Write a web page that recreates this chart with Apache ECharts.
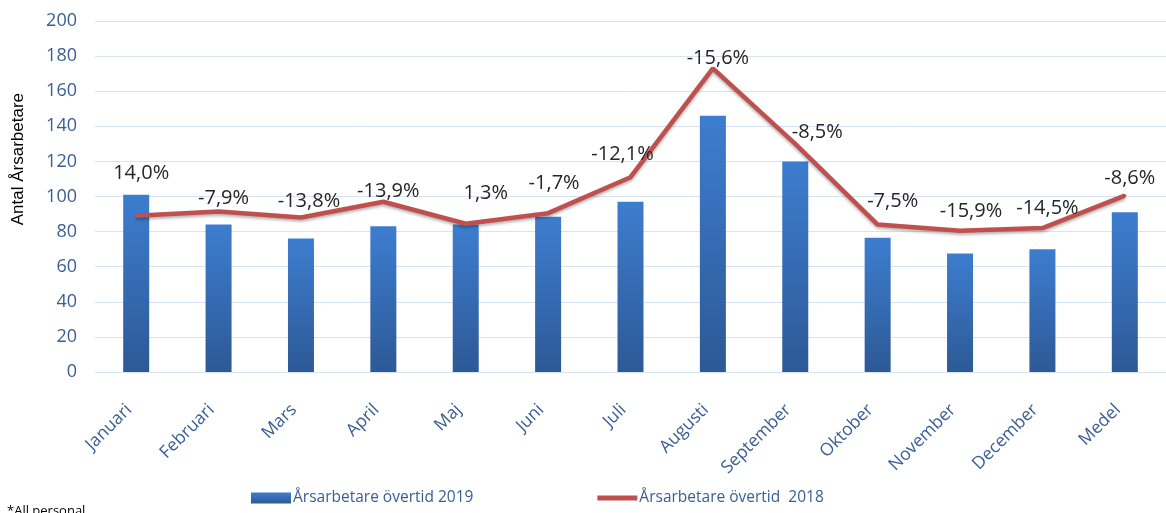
<!DOCTYPE html>
<html>
<head>
<meta charset="utf-8">
<script src="https://cdn.jsdelivr.net/npm/echarts@6/dist/echarts.min.js"></script>
<style>
  html, body { margin: 0; padding: 0; background: #fff; }
  #main { width: 1166px; height: 513px; }
</style>
</head>
<body>
<div id="main"></div>
<script>
const months = ['Januari', 'Februari', 'Mars', 'April', 'Maj', 'Juni', 'Juli', 'Augusti', 'September', 'Oktober', 'November', 'December', 'Medel'];
const values2019 = [101, 84, 76, 83, 84, 88.5, 97, 146, 120, 76.5, 67.5, 70, 91];
const values2018 = [89, 91.5, 88, 97, 84.5, 90.5, 111, 173, 130, 84, 80.5, 82, 100.5];
const changeLabels = ['14,0%', '-7,9%', '-13,8%', '-13,9%', '1,3%', '-1,7%', '-12,1%', '-15,6%', '-8,5%', '-7,5%', '-15,9%', '-14,5%', '-8,6%'];
const yTicks = [0, 20, 40, 60, 80, 100, 120, 140, 160, 180, 200];

// nudges for the percentage labels, the way they sit in the original
const labelNudge = [[5, -25], [5, 4], [8, 1], [5, 7], [20, -13], [6, -12], [-8, -5], [5, 7], [22, 6], [15, -6], [11, -2], [5, -2], [5, 0]];

const blueText = '#3A5E95';
const font = 'Open Sans';

var chart = echarts.init(document.getElementById('main'));

var lineData = values2018.map(function (v, i) {
	return {
		value: v,
		label: { formatter: changeLabels[i] }
	};
});

var option = {
	animation: false,
	grid: {
		left: 95,
		top: 21,
		width: 1079,
		bottom: 141
	},
	legend: {
		left: 246,
		bottom: 2,
		itemWidth: 40,
		itemHeight: 11,
		itemGap: 124,
		textStyle: { color: blueText, fontSize: 15.5, fontFamily: font, padding: [0, 0, 0, -3] },
		data: [
			{ name: 'Årsarbetare övertid 2019', icon: 'rect' },
			{ name: 'Årsarbetare övertid  2018', icon: 'path://M0,0 L40,0 L40,5 L0,5 Z' }
		]
	},
	graphic: [
		{
			type: 'text',
			left: 10,
			top: 93,
			rotation: Math.PI / 2,
			style: { text: 'Antal Årsarbetare', fill: '#000', font: '17px "Liberation Sans"' }
		},
		{
			type: 'text',
			left: 7,
			top: 505,
			style: { text: '*All personal', fill: '#000', font: '13px "Open Sans"' }
		}
	],
	xAxis: {
		type: 'category',
		data: months,
		axisLine: { show: false },
		axisTick: { show: false },
		axisLabel: {
			rotate: 45,
			margin: 28,
			padding: [0, 10, 0, 0],
			color: blueText,
			fontSize: 17.5,
			fontFamily: font,
			interval: 0
		}
	},
	yAxis: {
		type: 'value',
		min: yTicks[0],
		max: yTicks[yTicks.length - 1],
		interval: 20,
		axisLine: { show: false },
		axisTick: { show: false },
		splitLine: { lineStyle: { color: '#D6E3F3', width: 1 } },
		axisLabel: { color: blueText, fontSize: 18, fontFamily: font, margin: 18 }
	},
	series: [
		{
			name: 'Årsarbetare övertid 2019',
			type: 'bar',
			barWidth: 26,
			data: values2019,
			itemStyle: {
				color: new echarts.graphic.LinearGradient(0, 0, 0, 1, [
					{ offset: 0, color: '#3D7DCF' },
					{ offset: 1, color: '#2D5996' }
				])
			}
		},
		{
			name: 'Årsarbetare övertid  2018',
			type: 'line',
			data: lineData,
			symbol: 'circle',
			symbolSize: 3,
			showSymbol: true,
			lineStyle: {
				color: '#C0504D',
				width: 4.5,
				shadowColor: 'rgba(0,0,0,0.3)',
				shadowBlur: 3,
				shadowOffsetY: 2
			},
			itemStyle: { color: '#C0504D' },
			label: {
				show: true,
				position: 'top',
				distance: 6,
				color: '#262626',
				fontSize: 20,
				fontFamily: font
			},
			labelLayout: function (params) {
				var n = labelNudge[params.dataIndex] || [0, 0];
				return { dx: n[0], dy: n[1], hideOverlap: false };
			},
			z: 3
		}
	]
};

chart.setOption(option);
</script>
</body>
</html>
